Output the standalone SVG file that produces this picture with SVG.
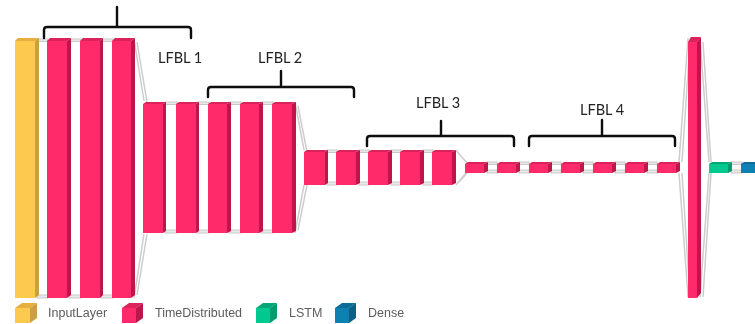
<svg xmlns="http://www.w3.org/2000/svg" width="755" height="324" viewBox="0 0 755 324">
<style>
svg>g{filter:url(#soft)}
.f{fill:#ff2c6b}.t{fill:#dc245c}.s{fill:#bd154e}
.yf{fill:#fec94f}.yt{fill:#e6af3c}.ys{fill:#c9a045}
.gf{fill:#00c98f}.gt{fill:#00a878}.gs{fill:#009c70}
.bf{fill:#0e82b2}.bt{fill:#0a6d98}.bs{fill:#075f86}
.c{fill:#e9e9e9;stroke:#c9c9c9;stroke-width:1}
.d{fill:none;stroke:#cdcdcd;stroke-width:1.5}
.b{fill:none;stroke:#111;stroke-width:2.4;stroke-linecap:round}
.l{font-family:Lato,"Liberation Sans",sans-serif;font-size:14.5px;fill:#222}
.g{font-family:"Liberation Sans",Arial,sans-serif;font-size:12.5px;fill:#5c5c5c}
</style>
<defs><filter id="soft" x="-5%" y="-5%" width="110%" height="110%" filterUnits="userSpaceOnUse" primitiveUnits="userSpaceOnUse"><feGaussianBlur stdDeviation="0.45"/></filter></defs>
<rect width="755" height="324" fill="#fff"/>
<g id="connectors">
<rect class="c" x="37" y="39" width="11" height="2.5"/><rect class="c" x="37" y="295" width="11" height="3"/>
<rect class="c" x="69" y="39" width="12" height="2.5"/><rect class="c" x="69" y="295" width="12" height="3"/>
<rect class="c" x="101" y="39" width="12" height="2.5"/><rect class="c" x="101" y="295" width="12" height="3"/>
<path class="d" d="M134 39L144 101M137 42L147 102M134 298L144 234M137 295L147 234"/>
<rect class="c" x="165" y="102" width="12" height="2.5"/><rect class="c" x="165" y="230" width="12" height="3"/>
<rect class="c" x="197" y="102" width="12" height="2.5"/><rect class="c" x="197" y="230" width="12" height="3"/>
<rect class="c" x="229" y="102" width="12" height="2.5"/><rect class="c" x="229" y="230" width="12" height="3"/>
<rect class="c" x="261" y="102" width="12" height="2.5"/><rect class="c" x="261" y="230" width="12" height="3"/>
<path class="d" d="M295 102L304 150M298 106L307 152M295 233L304 185M298 230L307 185"/>
<rect class="c" x="327" y="150" width="10" height="2.5"/><rect class="c" x="327" y="182" width="10" height="3"/>
<rect class="c" x="359" y="150" width="10" height="2.5"/><rect class="c" x="359" y="182" width="10" height="3"/>
<rect class="c" x="391" y="150" width="10" height="2.5"/><rect class="c" x="391" y="182" width="10" height="3"/>
<rect class="c" x="423" y="150" width="10" height="2.5"/><rect class="c" x="423" y="182" width="10" height="3"/>
<path class="d" d="M456 150L466 162M459 154L468 164M456 185L466 173M459 182L468 172"/>
<rect class="c" x="487" y="162" width="10" height="2.5"/><rect class="c" x="487" y="170" width="10" height="3"/>
<rect class="c" x="519" y="162" width="10" height="2.5"/><rect class="c" x="519" y="170" width="10" height="3"/>
<rect class="c" x="551" y="162" width="10" height="2.5"/><rect class="c" x="551" y="170" width="10" height="3"/>
<rect class="c" x="583" y="162" width="10" height="2.5"/><rect class="c" x="583" y="170" width="10" height="3"/>
<rect class="c" x="615" y="162" width="10" height="2.5"/><rect class="c" x="615" y="170" width="10" height="3"/>
<rect class="c" x="647" y="162" width="10" height="2.5"/><rect class="c" x="647" y="170" width="10" height="3"/>
<path class="d" d="M679 162L688 38M682 162L690 42M679 173L688 297M682 173L690 297M700 38L709 162M703 42L711 162M700 297L709 173M703 297L711 173"/>
<rect class="c" x="731" y="162" width="11" height="2.5"/><rect class="c" x="731" y="170" width="11" height="3"/>
</g>
<g id="input"><path class="yt" d="M15 41L18 38H39L35 41Z"/><path class="ys" d="M35 41L39 38V295L35 298Z"/><rect class="yf" x="15" y="41" width="20" height="257"/></g>
<g id="td1"><path class="t" d="M47 41L50 38H71L67 41Z"/><path class="s" d="M67 41L71 38V295L67 298Z"/><rect class="f" x="47" y="41" width="20" height="257"/></g>
<g id="td2"><path class="t" d="M80 41L83 38H103L100 41Z"/><path class="s" d="M100 41L103 38V295L100 298Z"/><rect class="f" x="80" y="41" width="20" height="257"/></g>
<g id="td3"><path class="t" d="M112 41L115 38H135L131 41Z"/><path class="s" d="M131 41L135 38V295L131 298Z"/><rect class="f" x="112" y="41" width="19" height="257"/></g>
<g id="td4"><path class="t" d="M143 104L146 102H166L163 104Z"/><path class="s" d="M163 104L166 102V231L163 233Z"/><rect class="f" x="143" y="104" width="20" height="129"/></g>
<g id="td5"><path class="t" d="M176 104L179 102H199L196 104Z"/><path class="s" d="M196 104L199 102V231L196 233Z"/><rect class="f" x="176" y="104" width="20" height="129"/></g>
<g id="td6"><path class="t" d="M208 104L211 102H231L227 104Z"/><path class="s" d="M227 104L231 102V231L227 233Z"/><rect class="f" x="208" y="104" width="19" height="129"/></g>
<g id="td7"><path class="t" d="M240 104L243 102H263L259 104Z"/><path class="s" d="M259 104L263 102V231L259 233Z"/><rect class="f" x="240" y="104" width="19" height="129"/></g>
<g id="td8"><path class="t" d="M272 104L275 102H296L292 104Z"/><path class="s" d="M292 104L296 102V231L292 233Z"/><rect class="f" x="272" y="104" width="20" height="129"/></g>
<g id="td9"><path class="t" d="M304 152L307 150H328L325 152Z"/><path class="s" d="M325 152L328 150V183L325 185Z"/><rect class="f" x="304" y="152" width="21" height="33"/></g>
<g id="td10"><path class="t" d="M336 152L339 150H360L356 152Z"/><path class="s" d="M356 152L360 150V183L356 185Z"/><rect class="f" x="336" y="152" width="20" height="33"/></g>
<g id="td11"><path class="t" d="M368 152L371 150H392L388 152Z"/><path class="s" d="M388 152L392 150V183L388 185Z"/><rect class="f" x="368" y="152" width="20" height="33"/></g>
<g id="td12"><path class="t" d="M400 152L403 150H424L420 152Z"/><path class="s" d="M420 152L424 150V183L420 185Z"/><rect class="f" x="400" y="152" width="20" height="33"/></g>
<g id="td13"><path class="t" d="M432 152L435 150H456L452 152Z"/><path class="s" d="M452 152L456 150V183L452 185Z"/><rect class="f" x="432" y="152" width="20" height="33"/></g>
<g id="td14"><path class="t" d="M465 164L468 162H488L484 164Z"/><path class="s" d="M484 164L488 162V171L484 173Z"/><rect class="f" x="465" y="164" width="19" height="9"/></g>
<g id="td15"><path class="t" d="M497 164L500 162H520L516 164Z"/><path class="s" d="M516 164L520 162V171L516 173Z"/><rect class="f" x="497" y="164" width="19" height="9"/></g>
<g id="td16"><path class="t" d="M529 164L532 162H552L548 164Z"/><path class="s" d="M548 164L552 162V171L548 173Z"/><rect class="f" x="529" y="164" width="19" height="9"/></g>
<g id="td17"><path class="t" d="M561 164L564 162H584L580 164Z"/><path class="s" d="M580 164L584 162V171L580 173Z"/><rect class="f" x="561" y="164" width="19" height="9"/></g>
<g id="td18"><path class="t" d="M593 164L596 162H616L612 164Z"/><path class="s" d="M612 164L616 162V171L612 173Z"/><rect class="f" x="593" y="164" width="19" height="9"/></g>
<g id="td19"><path class="t" d="M625 164L628 162H648L644 164Z"/><path class="s" d="M644 164L648 162V171L644 173Z"/><rect class="f" x="625" y="164" width="19" height="9"/></g>
<g id="td20"><path class="t" d="M657 164L660 162H680L676 164Z"/><path class="s" d="M676 164L680 162V171L676 173Z"/><rect class="f" x="657" y="164" width="19" height="9"/></g>
<g id="td21"><path class="t" d="M688 42L691 37H701L697 42Z"/><path class="s" d="M697 42L701 37V293L697 298Z"/><rect class="f" x="688" y="42" width="9" height="256"/></g>
<g id="lstm"><path class="gt" d="M709 164L712 162H732L728 164Z"/><path class="gs" d="M728 164L732 162V171L728 173Z"/><rect class="gf" x="709" y="164" width="19" height="9"/></g>
<g id="dense"><path class="bt" d="M741 164L744 162H755V164Z"/><rect class="bf" x="741" y="164" width="14" height="9"/></g>
<g id="lfbl1"><path class="b" d="M44 38V30Q44 27 47 27H188Q191 27 191 30V38M117 7V27"/><text class="l" x="158" y="63">LFBL 1</text></g>
<g id="lfbl2"><path class="b" d="M208 97V90Q208 87 211 87H351Q354 87 354 90V97M281 71V87"/><text class="l" x="258" y="63">LFBL 2</text></g>
<g id="lfbl3"><path class="b" d="M367 146V139Q367 136 370 136H511Q514 136 514 139V146M441 121V136"/><text class="l" x="416" y="108">LFBL 3</text></g>
<g id="lfbl4"><path class="b" d="M529 146V139Q529 136 532 136H672Q675 136 675 139V146M602 120V136"/><text class="l" x="580" y="115">LFBL 4</text></g>
<g id="legend-input"><path class="yt" d="M15 308L22 303H37L30 308Z"/><path class="ys" d="M30 308L37 303V318L30 323Z"/><rect class="yf" x="15" y="308" width="15" height="15"/><text class="g" x="48" y="317">InputLayer</text></g>
<g id="legend-td"><path class="t" d="M122 308L129 303H143L136 308Z"/><path class="s" d="M136 308L143 303V318L136 323Z"/><rect class="f" x="122" y="308" width="14" height="15"/><text class="g" x="155" y="317">TimeDistributed</text></g>
<g id="legend-lstm"><path class="gt" d="M256 308L263 303H277L270 308Z"/><path class="gs" d="M270 308L277 303V318L270 323Z"/><rect class="gf" x="256" y="308" width="14" height="15"/><text class="g" x="289" y="317">LSTM</text></g>
<g id="legend-dense"><path class="bt" d="M335 308L342 303H356L349 308Z"/><path class="bs" d="M349 308L356 303V318L349 323Z"/><rect class="bf" x="335" y="308" width="14" height="15"/><text class="g" x="368" y="317">Dense</text></g>
</svg>
